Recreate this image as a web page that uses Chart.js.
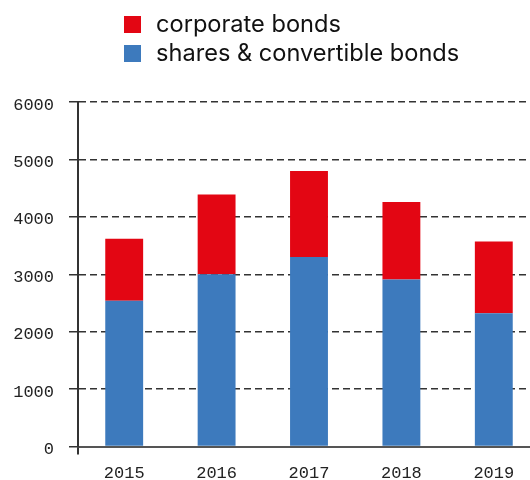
<!DOCTYPE html>
<html>
<head>
<meta charset="utf-8">
<script src="https://cdn.jsdelivr.net/npm/chart.js@4"></script>
<style>
  html, body { margin: 0; padding: 0; background: #fff; overflow: hidden; }
  #wrap { position: relative; width: 540px; height: 503px; }
  #legend { position: absolute; left: 124px; top: 9px; font-family: Inter, "Noto Sans", sans-serif; font-size: 23.6px; color: #111; }
  #legend div { display: flex; align-items: center; height: 29px; }
  #legend span.box { width: 17px; height: 17px; margin-right: 15px; display: inline-block; position: relative; top: 1px; }
</style>
</head>
<body>
<div id="wrap">
  <div id="legend"></div>
  <canvas id="chart" width="540" height="503"></canvas>
</div>
<script>
const years = ['2015', '2016', '2017', '2018', '2019'];
const shares = [2540, 3000, 3300, 2910, 2320];
const corporate = [1080, 1390, 1500, 1350, 1250];
const yTicks = [0, 1000, 2000, 3000, 4000, 5000, 6000];

const monoFont = { family: "'Liberation Mono', monospace", size: 17 };

const chart = new Chart(document.getElementById('chart'), {
  type: 'bar',
  data: {
    labels: years,
    datasets: [
      { label: 'shares & convertible bonds', data: shares, backgroundColor: '#3d7abd' },
      { label: 'corporate bonds', data: corporate, backgroundColor: '#e30613' }
    ]
  },
  options: {
    responsive: false,
    animation: false,
    devicePixelRatio: 1,
    categoryPercentage: 1,
    barPercentage: 0.41,
    layout: { padding: { top: 102, left: 12, right: 0, bottom: 10 } },
    plugins: {
      legend: { display: false },
      tooltip: { enabled: false }
    },
    scales: {
      x: {
        stacked: true,
        grid: {
          drawOnChartArea: false,
          tickLength: 8,
          color: ctx => ctx.index === 0 ? '#333' : 'rgba(0,0,0,0)',
          lineWidth: 2
        },
        border: { display: true, color: '#555', width: 2 },
        ticks: { color: '#222', font: monoFont, padding: 9 }
      },
      y: {
        stacked: true,
        min: 0,
        max: 6000,
        afterBuildTicks: axis => { axis.ticks = yTicks.map(v => ({ value: v })); },
        afterFit: axis => { axis.width = 66; },
        grid: { color: '#333', lineWidth: 1.5, tickLength: 9 },
        border: {
          display: true, color: '#333', width: 2,
          dash: ctx => ctx.tick && ctx.tick.value === 0 ? [] : [7, 4]
        },
        ticks: { color: '#222', font: monoFont, padding: 15, labelOffset: 3, callback: v => String(v) }
      }
    }
  }
});

// legend: top dataset first
const legend = document.getElementById('legend');
chart.data.datasets.slice().reverse().forEach(ds => {
  const row = document.createElement('div');
  const box = document.createElement('span');
  box.className = 'box';
  box.style.background = ds.backgroundColor;
  row.appendChild(box);
  row.appendChild(document.createTextNode(ds.label));
  legend.appendChild(row);
});
</script>
</body>
</html>
